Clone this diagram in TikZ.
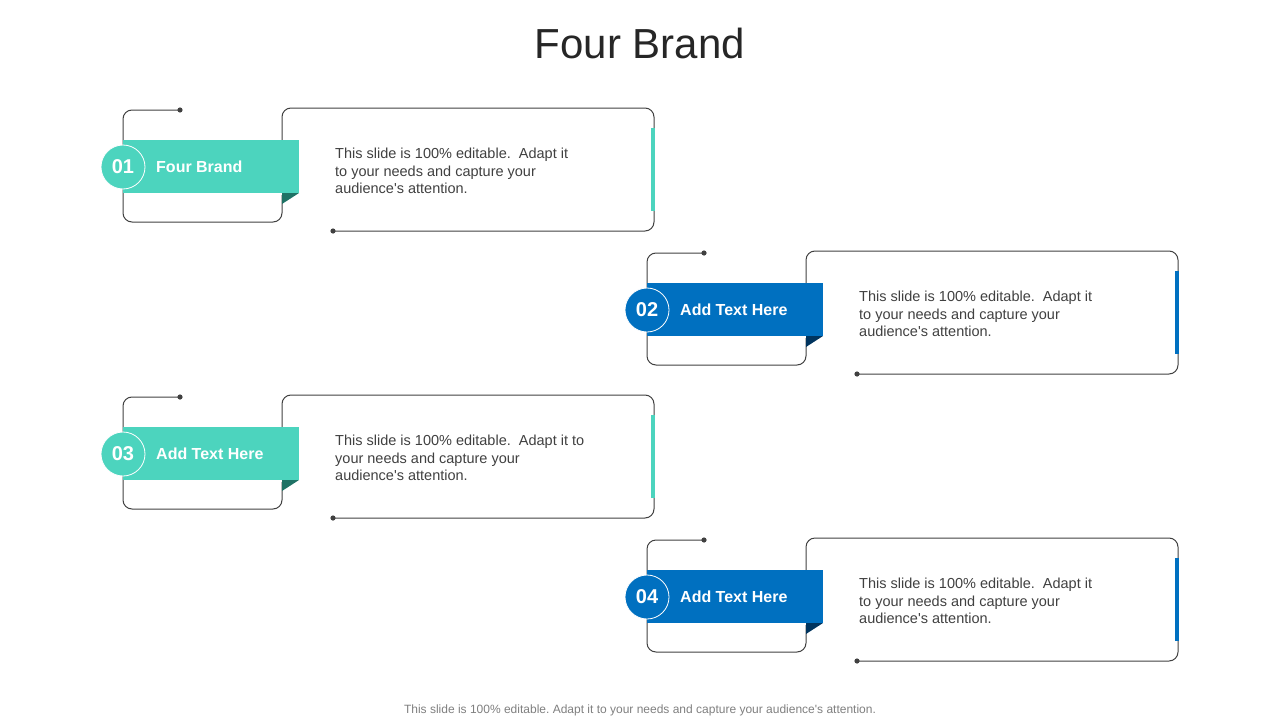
\documentclass[tikz,border=0pt]{standalone}
\usepackage{fontspec}
\setmainfont{Liberation Sans}
\usepackage{tikz}
\usetikzlibrary{positioning}
\definecolor{tealmain}{HTML}{4CD4BE}
\definecolor{tealfold}{HTML}{1F7265}
\definecolor{bluemain}{HTML}{0070C0}
\definecolor{bluefold}{HTML}{00345E}
\definecolor{linegray}{HTML}{404040}
\definecolor{titlegray}{HTML}{262626}
\definecolor{footgray}{HTML}{7F7F7F}
\frenchspacing
\tikzset{
  outline/.style={draw=linegray, line width=1, rounded corners=9},
  numdisc/.style={circle, draw=white, line width=0.8, inner sep=0, minimum size=44,
    text=white, font=\bfseries\fontsize{20}{24}\selectfont},
  ribbonlabel/.style={anchor=west, inner sep=0, text=white, font=\bfseries\fontsize{16}{19}\selectfont},
  bodytext/.style={anchor=west, inner sep=0, align=left, text=linegray, font=\fontsize{14.5}{17.5}\selectfont},
}
\begin{document}
\begin{tikzpicture}[x=1pt, y=-1pt]
        \useasboundingbox (0,0) rectangle (1280,720);

        \node[text=titlegray, font=\fontsize{42}{48}\selectfont] (title) at (640,43) {Four Brand};

        \foreach \n/\dx/\dy/\col/\dark/\lab/\txt in {
            01/0/0/tealmain/tealfold/{Four Brand}/{This slide is 100\% editable.\ \ Adapt it\\to your needs and capture your\\audience\textquotesingle s attention.},
            02/524/143/bluemain/bluefold/{Add Text Here}/{This slide is 100\% editable.\ \ Adapt it\\to your needs and capture your\\audience\textquotesingle s attention.},
            03/0/287/tealmain/tealfold/{Add Text Here}/{This slide is 100\% editable.\ \ Adapt it to\\your needs and capture your\\audience\textquotesingle s attention.},
            04/524/430/bluemain/bluefold/{Add Text Here}/{This slide is 100\% editable.\ \ Adapt it\\to your needs and capture your\\audience\textquotesingle s attention.}} {
        \begin{scope}[shift={(\dx,\dy)}]
            % frames
            \draw[outline] (180,110) -- (123,110) -- (123,222) -- (282,222) -- (282,195);
            \draw[outline] (333,231) -- (654,231) -- (654,108) -- (282,108) -- (282,145);
            \fill[linegray] (180,110) circle (2.6);
            \fill[linegray] (333,231) circle (2.6);
            % ribbon
            \fill[\col] (123,140) rectangle (299,193);
            \fill[\dark] (282,193) -- (299,193) -- (282,204) -- cycle;
            \fill[\col] (650.5,128) rectangle (654.5,211);
            \node[numdisc, fill=\col] (num\n) at (123,167) {\n};
            \node[ribbonlabel] (lab\n) at (156,167) {\lab};
            \node[bodytext] (txt\n) at (335,171) {\txt};
        \end{scope}
        }

        \node[text=footgray, font=\fontsize{12}{14}\selectfont] (foot) at (640,710)
            {This slide is 100\% editable. Adapt it to your needs and capture your audience\textquotesingle s attention.};
\end{tikzpicture}
\end{document}
